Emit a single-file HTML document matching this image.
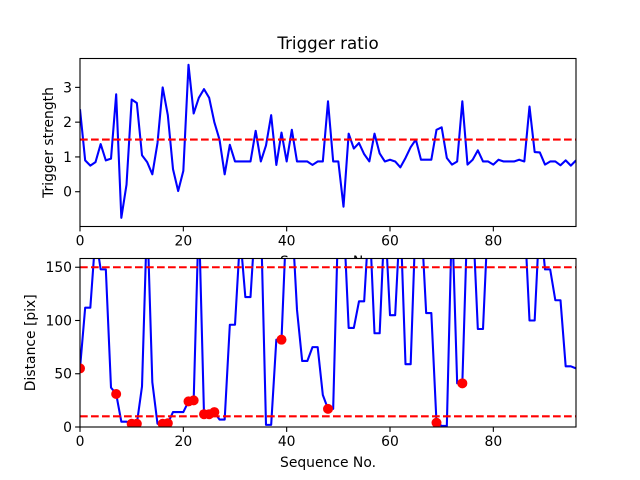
<!DOCTYPE html>
<html><head><meta charset="utf-8"><style>
body{margin:0;background:#fff}
svg{display:block;font-family:"DejaVu Sans","Liberation Sans",sans-serif}
</style></head><body>
<svg id="chart" width="640" height="480" xmlns="http://www.w3.org/2000/svg"></svg>
<script>
const seqIndex = Array.from({length:97},(_,i)=>i);
const triggerValues = [2.37,0.9,0.75,0.85,1.37,0.9,0.95,2.8,-0.75,0.2,2.65,2.55,1.05,0.85,0.5,1.4,3.0,2.2,0.65,0.02,0.6,3.65,2.25,2.7,2.95,2.7,2.0,1.5,0.5,1.35,0.87,0.87,0.87,0.87,1.75,0.87,1.33,2.2,0.77,1.7,0.87,1.78,0.87,0.87,0.87,0.77,0.87,0.87,2.6,0.87,0.87,-0.43,1.67,1.24,1.4,1.08,0.87,1.67,1.1,0.87,0.92,0.87,0.7,0.97,1.28,1.5,0.92,0.92,0.92,1.78,1.85,0.97,0.78,0.87,2.6,0.78,0.92,1.19,0.87,0.87,0.78,0.92,0.87,0.87,0.87,0.92,0.87,2.45,1.14,1.13,0.78,0.87,0.87,0.76,0.9,0.75,0.9];
const distanceValues = [55,112,112,180,148,148,37,31,5,5,3,3,38,200,42,3,3,3.5,14,14,14,24,25,200,12,12,14,7,7,96,96,180,122,122,200,200,2,2,82,82,200,200,110,62,62,75,75,30,17,17,200,200,93,93,118,118,200,88,88,200,105,105,200,59,59,200,200,107,107,4,1,1,200,41,41,200,200,92,92,200,200,200,200,200,200,200,200,100,100,200,148,148,119,119,57,57,55];
const markerIndex = [0,7,10,11,16,17,21,22,24,25,26,39,48,69,74];
const triggerThreshold = [1.5];
const distanceThresholds = [150,10];
const xTicks = [0,20,40,60,80];
const triggerTicks = [0,1,2,3];
const distanceTicks = [0,50,100,150];

const NS="http://www.w3.org/2000/svg";
const svg=document.getElementById('chart');
function mk(tag,attrs,parent){const e=document.createElementNS(NS,tag);for(const k in attrs)e.setAttribute(k,attrs[k]);(parent||svg).appendChild(e);return e;}
const X0=80,X1=576,XMAX=96;
const sx=v=>X0+(X1-X0)*v/XMAX;

function axes(top,bot,ymin,ymax,yTicks,series,thresholds,ylabel,name,markers,title,xlabelY){
  const sy=v=>bot-(bot-top)*(v-ymin)/(ymax-ymin);
  const g=mk('g',{});
  
  
  const bg=mk('rect',{x:X0,y:top,width:X1-X0,height:bot-top,fill:'#fff'},g);
  
  
  const defsId='clip-'+name;
  const cp=mk('clipPath',{id:defsId},g);
  mk('rect',{x:X0,y:top,width:X1-X0,height:bot-top},cp);
  const pg=mk('g',{'clip-path':'url(#'+defsId+')'},g);
  const d=series.map((v,i)=>(i?'L':'M')+sx(seqIndex[i]).toFixed(2)+' '+sy(v).toFixed(2)).join(' ');
  const line=mk('path',{d:d,fill:'none',stroke:'#0000ff','stroke-width':2.08,'stroke-linejoin':'round'},pg);
  
  
  thresholds.forEach(t=>{
    const l=mk('line',{x1:X0,x2:X1,y1:sy(t),y2:sy(t),stroke:'#ff0000','stroke-width':2.08,'stroke-dasharray':'7.7 3.3'},pg);
    
    
  });
  (markers||[]).forEach(i=>{
    const c=mk('circle',{cx:sx(i),cy:sy(series[i]),r:5,fill:'#ff0000'},pg);
    
    
  });
  const fr=mk('rect',{x:X0,y:top,width:X1-X0,height:bot-top,fill:'none',stroke:'#000','stroke-width':1.1},g);
  
  
  xTicks.forEach(t=>{
    mk('line',{x1:sx(t),x2:sx(t),y1:bot,y2:bot+4.9,stroke:'#000','stroke-width':1.1},g);
    const tx=mk('text',{x:sx(t),y:bot+19,'font-size':13.9,'text-anchor':'middle'},g);
    tx.textContent=t;
    
    
  });
  yTicks.forEach(t=>{
    mk('line',{x1:X0-4.9,x2:X0,y1:sy(t),y2:sy(t),stroke:'#000','stroke-width':1.1},g);
    const tx=mk('text',{x:X0-8,y:sy(t)+5,'font-size':13.9,'text-anchor':'end'},g);
    tx.textContent=t;
    
    
  });
  const yl=mk('text',{x:0,y:0,'font-size':13.9,'text-anchor':'middle',transform:'translate('+(name==='trigger-axes'?53:35)+','+((top+bot)/2)+') rotate(-90)'},g);
  yl.textContent=ylabel;
  
  
  const xl=mk('text',{x:(X0+X1)/2,y:xlabelY,'font-size':13.9,'text-anchor':'middle'},g);
  xl.textContent='Sequence No.';
  
  
  if(title){
    const tt=mk('text',{x:(X0+X1)/2,y:49,'font-size':16.7,'text-anchor':'middle'},g);
    tt.textContent=title;
    
    
  }
}
axes(58.5,226.5,-1.0,3.83,triggerTicks,triggerValues,triggerThreshold,'Trigger strength','trigger-axes',null,'Trigger ratio',266);
axes(258.5,427,0,158.2,distanceTicks,distanceValues,distanceThresholds,'Distance [pix]','distance-axes',markerIndex,null,467);
</script>
</body></html>
